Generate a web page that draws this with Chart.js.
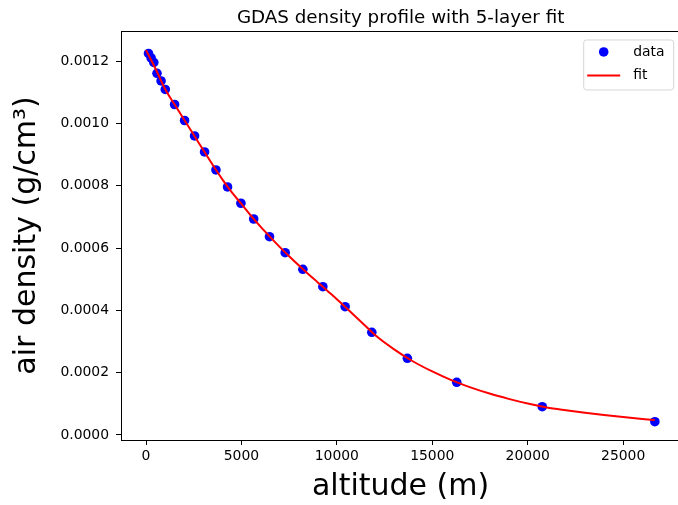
<!DOCTYPE html>
<html>
<head>
<meta charset="utf-8">
<script src="https://cdn.jsdelivr.net/npm/chart.js@4.4.0/dist/chart.umd.min.js"></script>
<style>
  html, body { margin: 0; padding: 0; background: #fff; overflow: hidden; }
  canvas { display: block; }
</style>
</head>
<body>
<canvas id="chart" width="685" height="505"></canvas>
<script>
// GDAS levels (altitude in m, density in g/cm^3)
const altitude = [131, 267, 408, 576, 790, 1010, 1497, 2021, 2544, 3068, 3665, 4272, 4973, 5643,
  6471, 7293, 8219, 9266, 10433, 11831, 13695, 16281, 20762, 26662];
const density = [0.0012251, 0.0012107, 0.0011962, 0.0011615, 0.0011368, 0.0011095, 0.0010613,
  0.0010099, 0.0009602, 0.0009088, 0.000851, 0.0007964, 0.0007441, 0.0006936, 0.0006368,
  0.0005854, 0.0005321, 0.0004762, 0.000412, 0.0003298, 0.0002463, 0.0001692, 0.0000909, 0.0000427];

// 5-layer fit curve, sampled from the red line
const fitAltitude = [0, 500, 1000, 1500, 2000, 2500, 3000, 3500, 4000, 4500, 5000, 5500, 6000,
  6500, 7000, 7500, 8000, 8500, 9000, 9500, 10000, 10500, 11000, 11500, 12000, 13000, 14000,
  15000, 16000, 17000, 18000, 19000, 20000, 21000, 22000, 23000, 24000, 25000, 26000, 26660];
const fitDensity = [0.001236, 0.001176, 0.001111, 0.001061, 0.001012, 0.000964, 0.000915,
  0.000867, 0.000821, 0.000779, 0.000742, 0.000704, 0.000669, 0.000636, 0.000604, 0.000574,
  0.000545, 0.000517, 0.000490, 0.000463, 0.000436, 0.000408, 0.000379, 0.000350, 0.000321,
  0.000275, 0.000236, 0.000204, 0.000176, 0.000153, 0.000133, 0.000116, 0.000101, 0.0000886,
  0.0000795, 0.0000713, 0.000064, 0.0000574, 0.0000515, 0.000048];

const xTicks = [0, 5000, 10000, 15000, 20000, 25000];
const yTicks = [0, 0.0002, 0.0004, 0.0006, 0.0008, 0.0010, 0.0012];

const FONT = "'DejaVu Sans', sans-serif";

const frameAndLegend = {
  id: "frameAndLegend",
  afterDraw(chart) {
    const { ctx, chartArea: a } = chart;
    ctx.save();
    ctx.strokeStyle = "#000";
    ctx.lineWidth = 1;
    ctx.strokeRect(Math.round(a.left) + 0.5, Math.round(a.top) + 0.5,
      Math.round(a.right - a.left), Math.round(a.bottom - a.top));

    // legend box, top right inside the axes
    const w = 90, h = 50;
    const x0 = a.right - 7 - w, y0 = a.top + 8.5;
    ctx.beginPath();
    ctx.roundRect(x0 + 0.5, y0 + 0.5, w, h, 3);
    ctx.fillStyle = "rgba(255,255,255,0.8)";
    ctx.fill();
    ctx.strokeStyle = "#d6d6d6";
    ctx.stroke();

    const ds = chart.data.datasets;
    ctx.font = "13.9px " + FONT;
    ctx.textBaseline = "middle";
    ctx.textAlign = "left";

    // data marker
    const row1 = y0 + 12.5, row2 = y0 + 36;
    ctx.fillStyle = ds[1].backgroundColor;
    ctx.beginPath();
    ctx.arc(x0 + 20.5, row1, 4.8, 0, Math.PI * 2);
    ctx.fill();
    ctx.fillStyle = "#000";
    ctx.fillText(ds[1].label, x0 + 50, row1);

    // fit line
    ctx.strokeStyle = ds[0].borderColor;
    ctx.lineWidth = 2;
    ctx.beginPath();
    ctx.moveTo(x0 + 4, row2);
    ctx.lineTo(x0 + 37, row2);
    ctx.stroke();
    ctx.fillText(ds[0].label, x0 + 50, row2);
    ctx.restore();
  }
};

const axisGrid = {
  display: true,
  drawOnChartArea: false,
  drawTicks: true,
  tickLength: 5,
  color: "#000",
  lineWidth: 1
};

new Chart(document.getElementById("chart").getContext("2d"), {
  type: "scatter",
  data: {
    datasets: [
      {
        type: "line",
        label: "fit",
        data: fitAltitude.map((a, i) => ({ x: a, y: fitDensity[i] })),
        borderColor: "#ff0000",
        borderWidth: 2,
        pointRadius: 0,
        fill: false,
        cubicInterpolationMode: "monotone",
        order: 0
      },
      {
        label: "data",
        data: altitude.map((a, i) => ({ x: a, y: density[i] })),
        backgroundColor: "#0000ff",
        borderColor: "#0000ff",
        borderWidth: 0,
        pointRadius: 4.8,
        order: 1
      }
    ]
  },
  options: {
    responsive: false,
    animation: false,
    events: [],
    layout: { padding: 0 },
    plugins: {
      legend: { display: false },
      tooltip: { enabled: false },
      title: {
        display: true,
        text: "GDAS density profile with 5-layer fit",
        fullSize: false,
        color: "#000",
        font: { family: FONT, size: 18.3, weight: "normal" },
        padding: { top: 7, bottom: 2 }
      }
    },
    scales: {
      x: {
        type: "linear",
        position: "bottom",
        min: -1310,
        max: 27990,
        afterBuildTicks: s => { s.ticks = xTicks.map(v => ({ value: v })); },
        afterFit: s => { s.height = 65; },
        ticks: {
          autoSkip: false,
          maxRotation: 0,
          padding: 3,
          color: "#000",
          font: { family: FONT, size: 13.9 },
          callback: v => String(v)
        },
        grid: axisGrid,
        border: { display: false },
        title: {
          display: true,
          text: "altitude (m)",
          color: "#000",
          font: { family: FONT, size: 30 },
          padding: { top: 0, bottom: 0 }
        }
      },
      y: {
        type: "linear",
        position: "left",
        min: -0.0000161,
        max: 0.0012974,
        afterBuildTicks: s => { s.ticks = yTicks.map(v => ({ value: v })); },
        afterFit: s => { s.width = 121; },
        ticks: {
          autoSkip: false,
          padding: 7,
          color: "#000",
          font: { family: FONT, size: 13.9 },
          callback: v => v.toFixed(4)
        },
        grid: axisGrid,
        border: { display: false },
        title: {
          display: true,
          text: "air density (g/cm³)",
          color: "#000",
          font: { family: FONT, size: 30 },
          padding: { top: 9, bottom: 0 }
        }
      }
    }
  },
  plugins: [frameAndLegend]
});
</script>
</body>
</html>
